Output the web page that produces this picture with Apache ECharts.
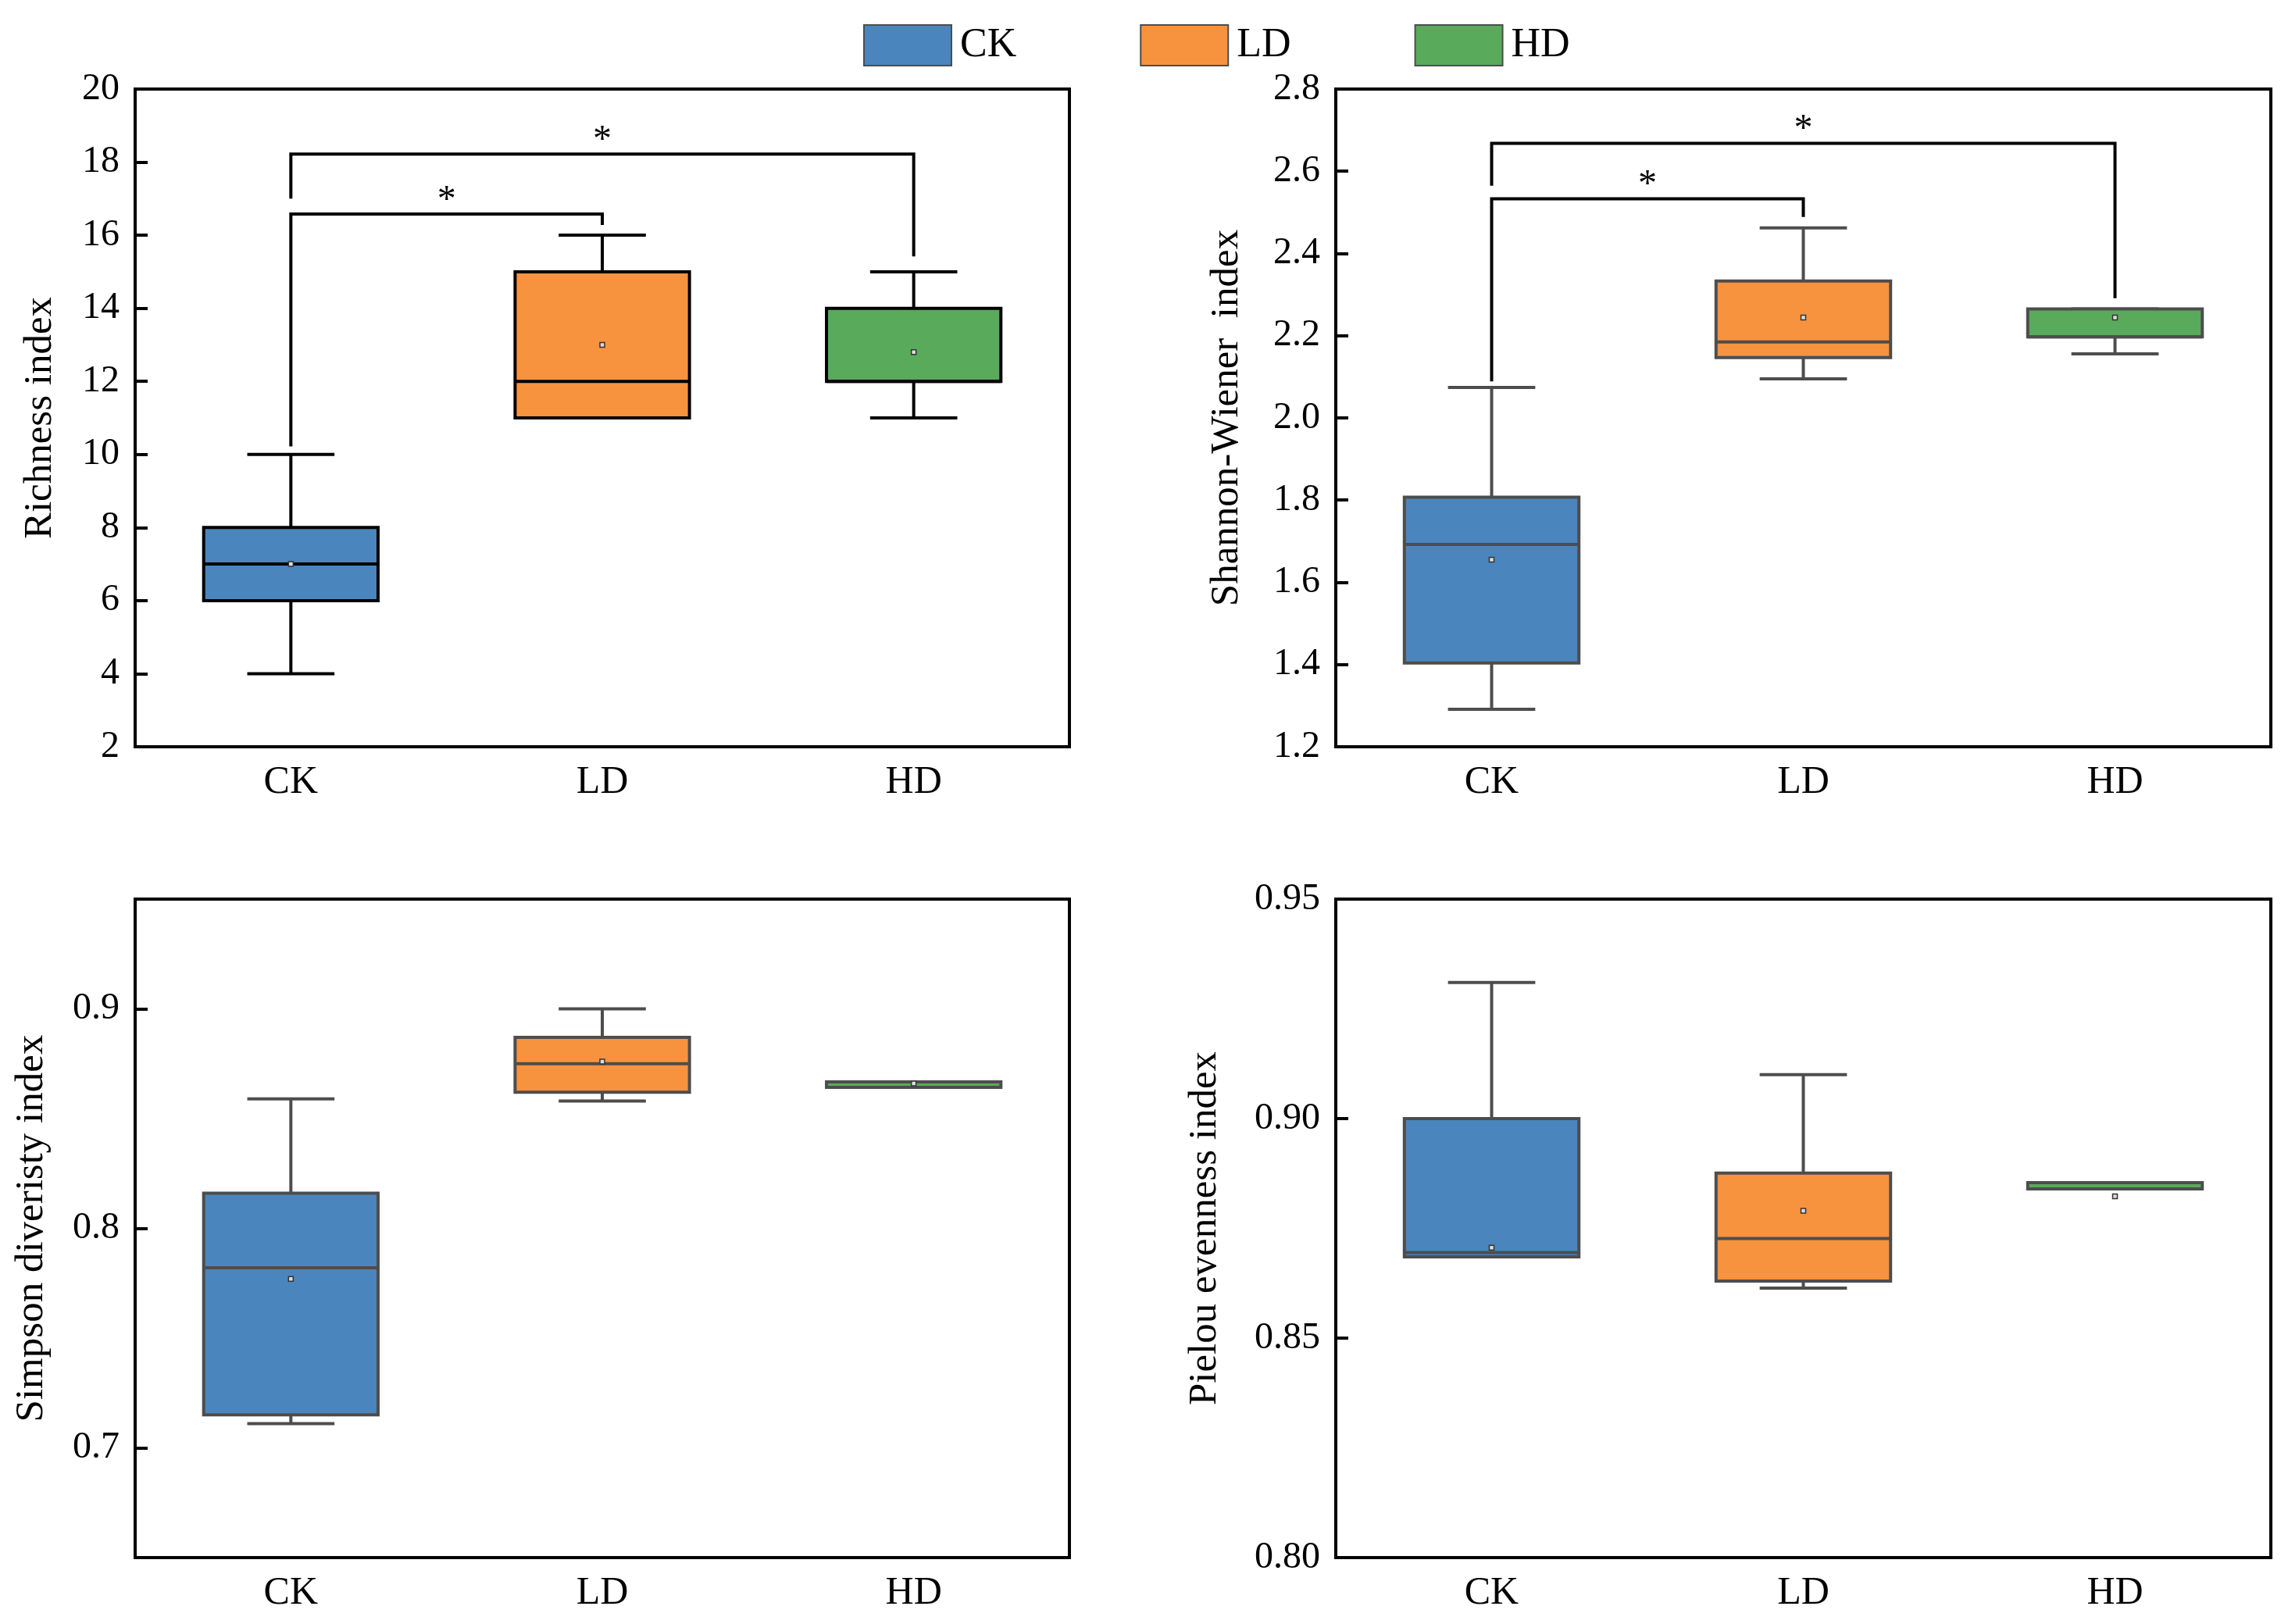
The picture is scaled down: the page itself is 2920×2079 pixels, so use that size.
<!DOCTYPE html>
<html><head><meta charset="utf-8">
<script src="https://cdn.jsdelivr.net/npm/echarts@6/dist/echarts.min.js"></script>
<style>html,body{margin:0;padding:0;background:#fff}#c{width:2920px;height:2079px}</style>
</head><body><div id="c"></div>
<script>
const categories = ['CK', 'LD', 'HD'];
// box values: [min, Q1, median, Q3, max]
const richnessBox = [[4, 6, 7, 8, 10], [11, 11, 12, 15, 16], [11, 12, 12, 14, 15]];
const richnessMean = [7.0, 13.0, 12.8];
const shannonBox = [[1.291, 1.404, 1.692, 1.807, 2.074], [2.095, 2.147, 2.185, 2.333, 2.462], [2.156, 2.197, 2.197, 2.265, 2.265]];
const shannonMean = [1.655, 2.244, 2.244];
const simpsonBox = [[0.711, 0.715, 0.782, 0.816, 0.859], [0.858, 0.862, 0.875, 0.887, 0.900], [0.8642, 0.8642, 0.8642, 0.8667, 0.8667]];
const simpsonMean = [0.777, 0.876, 0.866];
const pielouBox = [[0.8685, 0.8685, 0.8695, 0.900, 0.931], [0.8614, 0.863, 0.8727, 0.8876, 0.910], [0.8840, 0.8840, 0.8840, 0.8854, 0.8854]];
const pielouMean = [0.8706, 0.879, 0.8823];
// significance brackets: [fromIdx, toIdx, bracketTop, leftLegEnd, rightLegEnd]
const richnessSig = [[0, 1, 16.58, 10.22, 16.28], [0, 2, 18.22, 17.0, 15.42]];
const shannonSig = [[0, 1, 2.533, 2.089, 2.489], [0, 2, 2.668, 2.565, 2.291]];
const sigLabels = ['*', '*'];
// axis ranges: [min, max, interval]
const richnessAxis = [2, 20, 2];
const shannonAxis = [1.2, 2.8, 0.2];
const simpsonAxis = [0.65, 0.95, 0.05];
const simpsonTicks = [0.7, 0.8, 0.9];
const pielouAxis = [0.80, 0.95, 0.05];
const yNames = ['Richness index', 'Shannon-Wiener  index', 'Simpson diveristy index', 'Pielou evenness index'];

const colors = ['#4b85bd', '#f7923f', '#59aa5a'];
const FONT = '"Liberation Serif", "Times New Roman", serif';

function boxRender(stroke, lw) {
  return function (params, api) {
    const i = api.value(0);
    const cx = api.coord([i, api.value(3)])[0];
    const band = api.size([1, 0])[0];
    const bw = band * 0.56, cw = bw * 0.5;
    const y = k => api.coord([i, api.value(k)])[1];
    const yMin = y(1), yQ1 = y(2), yMed = y(3), yQ3 = y(4), yMax = y(5), yMean = y(6);
    const ls = { stroke: stroke, lineWidth: lw };
    return {
      type: 'group',
      children: [
        { type: 'line', shape: { x1: cx, y1: yMax, x2: cx, y2: yQ3 }, style: ls },
        { type: 'line', shape: { x1: cx, y1: yQ1, x2: cx, y2: yMin }, style: ls },
        { type: 'line', shape: { x1: cx - cw / 2, y1: yMax, x2: cx + cw / 2, y2: yMax }, style: ls },
        { type: 'line', shape: { x1: cx - cw / 2, y1: yMin, x2: cx + cw / 2, y2: yMin }, style: ls },
        { type: 'rect', shape: { x: cx - bw / 2, y: yQ3, width: bw, height: yQ1 - yQ3 }, style: { fill: colors[i], stroke: stroke, lineWidth: lw } },
        { type: 'line', shape: { x1: cx - bw / 2, y1: yMed, x2: cx + bw / 2, y2: yMed }, style: ls },
        { type: 'rect', shape: { x: cx - 3, y: yMean - 3, width: 6, height: 6 }, style: { fill: '#ddd', stroke: '#333', lineWidth: 1.5 } }
      ]
    };
  };
}

function sigRender(params, api) {
  const i = api.value(0), j = api.value(1);
  const xi = api.coord([i, api.value(2)])[0], xj = api.coord([j, api.value(2)])[0];
  const yt = api.coord([i, api.value(2)])[1];
  const yl = api.coord([i, api.value(3)])[1];
  const yr = api.coord([j, api.value(4)])[1];
  return {
    type: 'group',
    children: [
      { type: 'polyline', shape: { points: [[xi, yl], [xi, yt], [xj, yt], [xj, yr]] }, style: { stroke: '#000', lineWidth: 4, fill: null } },
      { type: 'text', style: { text: sigLabels[params.dataIndex], x: (xi + xj) / 2, y: yt + 7, fill: '#000', font: '48px ' + FONT, align: 'center', verticalAlign: 'bottom' } }
    ]
  };
}

function boxData(box, mean) {
  return box.map((b, i) => [i].concat(b).concat([mean[i]]));
}

const grids = [
  { left: 173, top: 114, width: 1196, height: 842 },
  { left: 1710, top: 114, width: 1197, height: 842 },
  { left: 173, top: 1151, width: 1196, height: 843 },
  { left: 1710, top: 1151, width: 1197, height: 843 }
].map(g => Object.assign({ show: true, borderColor: '#000', borderWidth: 4, backgroundColor: 'transparent' }, g));

const xAxes = [0, 1, 2, 3].map(k => ({
  type: 'category', gridIndex: k, data: categories,
  axisLine: { show: false },
  axisTick: { inside: true, alignWithLabel: true, length: 16, lineStyle: { color: '#000', width: 4 } },
  axisLabel: { margin: 21, fontSize: 50, color: '#000', fontFamily: FONT },
  splitLine: { show: false }
}));

const axisRanges = [richnessAxis, shannonAxis, simpsonAxis, pielouAxis];
const nameGaps = [96, 114, 107, 142];
const decimals = [0, 1, 1, 2];
const yAxes = axisRanges.map((r, k) => {
  const ax = {
    type: 'value', gridIndex: k, min: r[0], max: r[1], interval: r[2],
    name: yNames[k], nameLocation: 'middle', nameGap: nameGaps[k],
    nameTextStyle: { fontSize: 51, color: '#000', fontFamily: FONT },
    axisLine: { show: false },
    axisTick: { show: true, inside: true, length: 16, lineStyle: { color: '#000', width: 4 } },
    axisLabel: { margin: 20, fontSize: 48, color: '#000', fontFamily: FONT, formatter: v => Number(v).toFixed(decimals[k]) },
    splitLine: { show: false }
  };
  if (k === 2) {
    ax.axisLabel.customValues = simpsonTicks;
    ax.axisTick.customValues = simpsonTicks;
  }
  return ax;
});

const series = [];
categories.forEach((c, i) => series.push({
  type: 'bar', name: c, xAxisIndex: 0, yAxisIndex: 0, data: [],
  itemStyle: { color: colors[i], borderColor: '#4d4d4d', borderWidth: 4 }
}));
const boxes = [[richnessBox, richnessMean, '#000'], [shannonBox, shannonMean, '#4d4d4d'], [simpsonBox, simpsonMean, '#4d4d4d'], [pielouBox, pielouMean, '#4d4d4d']];
boxes.forEach((b, k) => series.push({
  type: 'custom', xAxisIndex: k, yAxisIndex: k, renderItem: boxRender(b[2], 4),
  encode: { x: 0, y: [1, 2, 3, 4, 5, 6] }, data: boxData(b[0], b[1]), silent: true
}));
[[richnessSig, 0], [shannonSig, 1]].forEach(s => series.push({
  type: 'custom', xAxisIndex: s[1], yAxisIndex: s[1], renderItem: sigRender,
  encode: { x: 0, y: [2, 3, 4] }, data: s[0], silent: true, z: 5
}));

const chart = echarts.init(document.getElementById('c'), null, { renderer: 'canvas' });
chart.setOption({
  backgroundColor: '#fff',
  animation: false,
  legend: {
    data: categories, left: 1100, top: 26, icon: 'rect', itemWidth: 112, itemHeight: 52, itemGap: 158,
    selectedMode: false,
    textStyle: { fontSize: 52, color: '#000', fontFamily: FONT, padding: [0, 0, 0, 6] }
  },
  grid: grids, xAxis: xAxes, yAxis: yAxes, series: series
});
</script></body></html>
